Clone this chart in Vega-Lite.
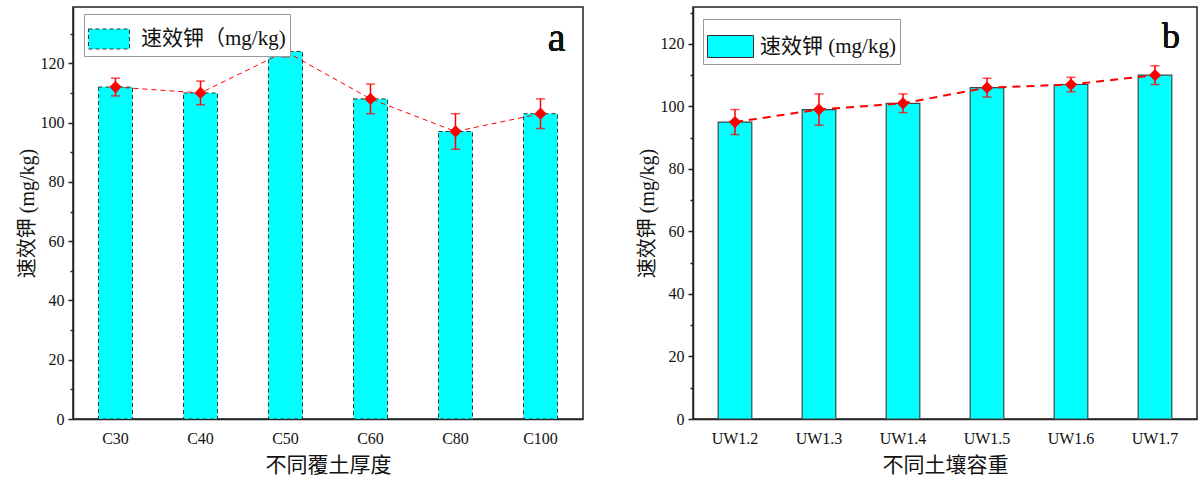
{
  "$schema": "https://vega.github.io/schema/vega-lite/v6.json",
  "padding": {"left": 16, "top": 6, "right": 0, "bottom": 0},
  "background": "white",
  "config": {
    "font": "Liberation Serif, Noto Sans CJK SC",
    "view": {"stroke": "#222222", "strokeWidth": 1.5},
    "axis": {
      "labelFont": "Liberation Serif, Noto Sans CJK SC",
      "titleFont": "Liberation Serif, Noto Sans CJK SC",
      "labelColor": "#111111",
      "titleColor": "#111111",
      "labelFontSize": 16,
      "titleFontSize": 20,
      "titleFontWeight": "normal",
      "domainColor": "#222222",
      "domainWidth": 1.5,
      "tickColor": "#222222",
      "tickWidth": 1.5,
      "grid": false
    },
    "legend": {
      "labelFont": "Liberation Serif, Noto Sans CJK SC",
      "labelColor": "#111111"
    }
  },
  "resolve": {"scale": {"color": "independent"}, "legend": {"color": "independent"}},
  "spacing": 52,
  "hconcat": [
    {
      "width": 510,
      "height": 412,
      "data": {"values": [
        {"c": "C30", "v": 112, "lo": 109, "hi": 115, "s": "速效钾（mg/kg)"},
        {"c": "C40", "v": 110, "lo": 106, "hi": 114, "s": "速效钾（mg/kg)"},
        {"c": "C50", "v": 124, "lo": 122.2, "hi": 125.8, "s": "速效钾（mg/kg)"},
        {"c": "C60", "v": 108, "lo": 103, "hi": 113, "s": "速效钾（mg/kg)"},
        {"c": "C80", "v": 97, "lo": 91, "hi": 103, "s": "速效钾（mg/kg)"},
        {"c": "C100", "v": 103, "lo": 98, "hi": 108, "s": "速效钾（mg/kg)"}
      ]},
      "layer": [
        {
          "mark": {"type": "bar", "stroke": "#333333", "strokeWidth": 1, "strokeDash": [4, 3]},
          "encoding": {
            "x": {"field": "c", "type": "nominal", "sort": null, "scale": {"paddingInner": 0.6, "paddingOuter": 0.3},
                  "axis": {"title": "不同覆土厚度", "labelAngle": 0, "ticks": false, "labelPadding": 11, "titlePadding": 8, "titleFontSize": 21}},
            "y": {"field": "v", "type": "quantitative", "scale": {"domain": [0, 139], "nice": false, "zero": true},
                  "axis": {"title": "速效钾 (mg/kg)", "values": [0, 20, 40, 60, 80, 100, 120], "tickSize": 5, "labelPadding": 4, "titlePadding": 3}},
            "color": {"field": "s", "type": "nominal", "scale": {"range": ["#00FFFF"]},
                      "legend": {"title": null, "orient": "none", "legendX": 11, "legendY": 7, "symbolType": "M-1,-0.488H1V0.488H-1Z", "symbolSize": 1681, "symbolStrokeColor": "#333333", "symbolStrokeWidth": 1, "symbolDash": [4, 3], "labelFontSize": 21, "labelOffset": 11, "padding": 4, "strokeColor": "#999999", "fillColor": "white", "cornerRadius": 0}}
          }
        },
        {
          "mark": {"type": "line", "color": "#FF0000", "strokeWidth": 1, "strokeDash": [5, 4]},
          "encoding": {"x": {"field": "c", "type": "nominal", "sort": null}, "y": {"field": "v", "type": "quantitative", "axis": null}}
        },
        {
          "mark": {"type": "rule", "color": "#FF0000", "strokeWidth": 1.5},
          "encoding": {"x": {"field": "c", "type": "nominal", "sort": null}, "y": {"field": "lo", "type": "quantitative", "axis": null}, "y2": {"field": "hi"}}
        },
        {
          "mark": {"type": "tick", "color": "#FF0000", "size": 9, "thickness": 1.5},
          "encoding": {"x": {"field": "c", "type": "nominal", "sort": null}, "y": {"field": "lo", "type": "quantitative", "axis": null}}
        },
        {
          "mark": {"type": "tick", "color": "#FF0000", "size": 9, "thickness": 1.5},
          "encoding": {"x": {"field": "c", "type": "nominal", "sort": null}, "y": {"field": "hi", "type": "quantitative", "axis": null}}
        },
        {
          "mark": {"type": "point", "shape": "diamond", "filled": true, "color": "#FF0000", "size": 150, "opacity": 1},
          "encoding": {"x": {"field": "c", "type": "nominal", "sort": null}, "y": {"field": "v", "type": "quantitative", "axis": null}}
        },
        {
          "mark": {"type": "point", "opacity": 0},
          "encoding": {"x": {"field": "c", "type": "nominal", "sort": null}, "y": {"field": "v", "type": "quantitative", "axis": {"orient": "left", "title": null, "labels": false, "domain": false, "tickSize": 3, "values": [10, 30, 50, 70, 90, 110, 130]}}}
        },
        {
          "mark": {"type": "text", "text": "a", "font": "Liberation Serif", "fontSize": 40, "align": "right", "baseline": "alphabetic", "dx": 25, "color": "#111111"},
          "encoding": {"x": {"datum": "C100", "type": "nominal"}, "y": {"datum": 124, "type": "quantitative", "axis": null}}
        }
      ],
      "resolve": {"axis": {"y": "independent"}}
    },
    {
      "width": 504,
      "height": 412,
      "data": {"values": [
        {"c": "UW1.2", "v": 95, "lo": 91, "hi": 99, "s": "速效钾 (mg/kg)"},
        {"c": "UW1.3", "v": 99, "lo": 94, "hi": 104, "s": "速效钾 (mg/kg)"},
        {"c": "UW1.4", "v": 101, "lo": 98, "hi": 104, "s": "速效钾 (mg/kg)"},
        {"c": "UW1.5", "v": 106, "lo": 103, "hi": 109, "s": "速效钾 (mg/kg)"},
        {"c": "UW1.6", "v": 107, "lo": 104.7, "hi": 109.3, "s": "速效钾 (mg/kg)"},
        {"c": "UW1.7", "v": 110, "lo": 107, "hi": 113, "s": "速效钾 (mg/kg)"}
      ]},
      "layer": [
        {
          "mark": {"type": "bar", "stroke": "#444444", "strokeWidth": 1.2},
          "encoding": {
            "x": {"field": "c", "type": "nominal", "sort": null, "scale": {"paddingInner": 0.6, "paddingOuter": 0.3},
                  "axis": {"title": "不同土壤容重", "labelAngle": 0, "ticks": false, "labelPadding": 11, "titlePadding": 8, "titleFontSize": 21}},
            "y": {"field": "v", "type": "quantitative", "scale": {"domain": [0, 131.8], "nice": false, "zero": true},
                  "axis": {"title": "速效钾 (mg/kg)", "values": [0, 20, 40, 60, 80, 100, 120], "tickSize": 5, "labelPadding": 4, "titlePadding": 3}},
            "color": {"field": "s", "type": "nominal", "scale": {"range": ["#00FFFF"]},
                      "legend": {"title": null, "orient": "none", "legendX": 10, "legendY": 12, "symbolType": "M-1,-0.478H1V0.478H-1Z", "symbolSize": 2116, "symbolStrokeColor": "#333333", "symbolStrokeWidth": 1, "labelFontSize": 21, "labelOffset": 6, "padding": 4, "strokeColor": "#999999", "fillColor": "white", "cornerRadius": 0}}
          }
        },
        {
          "mark": {"type": "line", "color": "#FF0000", "strokeWidth": 2, "strokeDash": [8, 6]},
          "encoding": {"x": {"field": "c", "type": "nominal", "sort": null}, "y": {"field": "v", "type": "quantitative", "axis": null}}
        },
        {
          "mark": {"type": "rule", "color": "#FF0000", "strokeWidth": 1.5},
          "encoding": {"x": {"field": "c", "type": "nominal", "sort": null}, "y": {"field": "lo", "type": "quantitative", "axis": null}, "y2": {"field": "hi"}}
        },
        {
          "mark": {"type": "tick", "color": "#FF0000", "size": 9, "thickness": 1.5},
          "encoding": {"x": {"field": "c", "type": "nominal", "sort": null}, "y": {"field": "lo", "type": "quantitative", "axis": null}}
        },
        {
          "mark": {"type": "tick", "color": "#FF0000", "size": 9, "thickness": 1.5},
          "encoding": {"x": {"field": "c", "type": "nominal", "sort": null}, "y": {"field": "hi", "type": "quantitative", "axis": null}}
        },
        {
          "mark": {"type": "point", "shape": "diamond", "filled": true, "color": "#FF0000", "size": 150, "opacity": 1},
          "encoding": {"x": {"field": "c", "type": "nominal", "sort": null}, "y": {"field": "v", "type": "quantitative", "axis": null}}
        },
        {
          "mark": {"type": "point", "opacity": 0},
          "encoding": {"x": {"field": "c", "type": "nominal", "sort": null}, "y": {"field": "v", "type": "quantitative", "axis": {"orient": "left", "title": null, "labels": false, "domain": false, "tickSize": 3, "values": [10, 30, 50, 70, 90, 110, 130]}}}
        },
        {
          "mark": {"type": "text", "text": "b", "font": "Liberation Serif", "fontSize": 36, "align": "right", "baseline": "alphabetic", "dx": 25, "color": "#111111"},
          "encoding": {"x": {"datum": "UW1.7", "type": "nominal"}, "y": {"datum": 118.7, "type": "quantitative", "axis": null}}
        }
      ],
      "resolve": {"axis": {"y": "independent"}}
    }
  ]
}
